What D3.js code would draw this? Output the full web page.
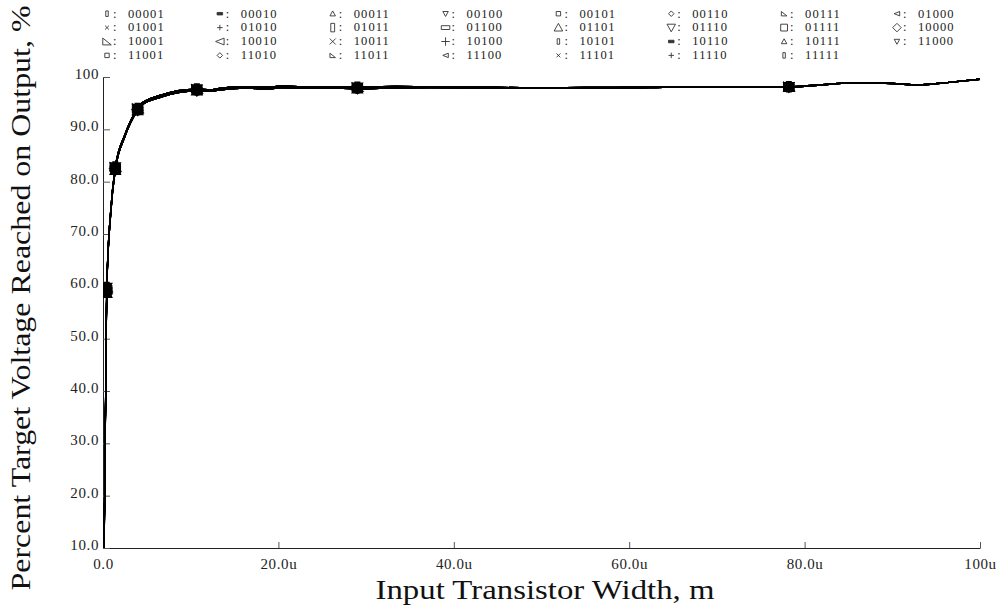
<!DOCTYPE html>
<html>
<head>
<meta charset="utf-8">
<script src="https://cdn.jsdelivr.net/npm/d3@7"></script>
<style>
  html, body { margin: 0; padding: 0; background: #fff; }
  svg { display: block; }
</style>
</head>
<body>
<svg id="chart" width="1001" height="606"></svg>
<script>
// Input transistor width sweep (in micrometres, labelled "u")
const widthSamples = [0.1, 0.42, 0.9, 1.4, 2.5, 3.95, 4.4, 6.7, 8.55, 10.7, 12.2, 13.5, 16.2, 18.8, 20.4, 22.7, 25.7, 29, 33.3, 37.3, 43, 48.7, 55, 62.4, 66.3, 72, 78.2, 82, 85.4, 89.2, 93, 96.5, 100];
// Widths at which the symbols are drawn
const markerWidths = [0.42, 1.4, 3.95, 10.7, 29, 78.2];

// Percent of target voltage reached, three closely overlapping response families
const responseHigh = [6, 59.8, 75.0, 82.8, 89.0, 94.0, 95.0, 96.6, 97.4, 97.7, 97.55, 97.9, 98.15, 98.05, 98.3, 98.15, 98.15, 98.05, 98.2, 98.15, 98.1, 97.95, 98.0, 98.05, 98.15, 98.15, 98.15, 98.55, 98.9, 98.85, 98.5, 99.0, 99.6];
const responseMid  = [5, 59.3, 74.6, 82.5, 88.8, 93.8, 94.8, 96.4, 97.2, 97.5, 97.4, 97.7, 98.0, 97.85, 98.15, 98.0, 98.0, 97.9, 98.05, 98.05, 98.0, 97.9, 97.95, 98.0, 98.1, 98.1, 98.1, 98.5, 98.9, 98.85, 98.5, 99.0, 99.6];
const responseLow  = [4, 58.7, 74.2, 82.2, 88.6, 93.6, 94.6, 96.2, 97.0, 97.35, 97.25, 97.55, 97.85, 97.7, 97.95, 97.85, 97.85, 97.75, 97.9, 97.95, 97.9, 97.8, 97.85, 97.95, 98.05, 98.05, 98.05, 98.45, 98.85, 98.8, 98.45, 98.95, 99.55];

// Configuration codes, one curve each
const codes = ["00001","00010","00011","00100","00101","00110","00111","01000",
               "01001","01010","01011","01100","01101","01110","01111","10000",
               "10001","10010","10011","10100","10101","10110","10111","11000",
               "11001","11010","11011","11100","11101","11110","11111"];
// Which response family each code follows
const codeFamily = [0,1,2,1,0,2,1,0, 2,1,0,1,2,0,1,2, 0,1,2,0,1,2,0,1, 2,0,1,2,0,1,2];
const families = [responseHigh, responseMid, responseLow];

// Axis ticks
const xMajorTicks = [0, 20, 40, 60, 80, 100];
const xTickLabels = ["0.0", "20.0u", "40.0u", "60.0u", "80.0u", "100u"];
const yMajorTicks = [100, 90, 80, 70, 60, 50, 40, 30, 20, 10];
const yTickLabels = ["100", "90.0", "80.0", "70.0", "60.0", "50.0", "40.0", "30.0", "20.0", "10.0"];

const SERIF = '"Liberation Serif", "Times New Roman", serif';
const svg = d3.select("#chart");
const x = d3.scaleLinear().domain([0, 100]).range([103, 980]);
const y = d3.scaleLinear().domain([10, 100]).range([548, 77]);

// ---- symbol shapes: cycles of ten, small / large ----
function symbolPath(kind, s) {
  const h = s / 2;
  switch (kind) {
    case 0: return `M${-h*0.45},${-h}H${h*0.45}V${h}H${-h*0.45}Z`;           // tall bar
    case 1: return `M${-h},${-h*0.45}H${h}V${h*0.45}H${-h}Z`;                // wide bar
    case 2: return `M0,${-h}L${h},${h*0.8}L${-h},${h*0.8}Z`;                 // up triangle
    case 3: return `M0,${h}L${h},${-h*0.8}L${-h},${-h*0.8}Z`;                // down triangle
    case 4: return `M${-h*0.8},${-h*0.8}H${h*0.8}V${h*0.8}H${-h*0.8}Z`;      // square
    case 5: return `M0,${-h}L${h},0L0,${h}L${-h},0Z`;                        // diamond
    case 6: return `M${-h},${-h*0.8}L${h},${h*0.8}H${-h}Z`;                  // right triangle
    case 7: return `M${h},${-h*0.8}V${h*0.8}L${-h},0Z`;                      // left triangle
    case 8: return `M${-h*0.7},${-h*0.7}L${h*0.7},${h*0.7}M${h*0.7},${-h*0.7}L${-h*0.7},${h*0.7}`; // cross
    default: return `M${-h},0H${h}M0,${-h}V${h}`;                            // plus
  }
}
const isLarge = i => i >= 10 && i < 20;
const isFilled = i => (i % 10) === 1 && !isLarge(i);

// ---- axes ----
const gx = svg.append("g").attr("transform", "translate(0,548)");
gx.call(d3.axisBottom(x).tickValues(d3.range(0, 101, 2).filter(v => v % 20 !== 0))
  .tickSize(-3).tickSizeOuter(0).tickFormat(""));
gx.call(d3.axisBottom(x).tickValues(xMajorTicks).tickSize(-6).tickSizeOuter(0)
  .tickPadding(10).tickFormat((d, i) => xTickLabels[i]));
gx.selectAll(".tick line").attr("stroke", "#555");
gx.select(".domain").attr("stroke", "#222");
gx.selectAll("text").attr("font-family", null).style("font-family", SERIF)
  .style("font-size", "15px").style("letter-spacing", "0.6px").attr("fill", "#222");

const gy = svg.append("g").attr("transform", "translate(103,0)");
gy.call(d3.axisLeft(y).tickValues(d3.range(10, 101, 2).filter(v => v % 10 !== 0))
  .tickSize(-4).tickSizeOuter(0).tickFormat(""));
gy.call(d3.axisLeft(y).tickValues(yMajorTicks).tickSize(-7).tickSizeOuter(0)
  .tickPadding(4).tickFormat((d, i) => yTickLabels[i]));
gy.selectAll(".tick line").attr("stroke", "#555");
gy.select(".domain").attr("stroke", "#222");
gy.selectAll("text").style("font-family", SERIF).style("font-size", "15px")
  .style("letter-spacing", "0.6px").attr("fill", "#222").attr("dy", "0.1em");
gx.attr("font-family", null); gy.attr("font-family", null);

// ---- curves ----
svg.append("clipPath").attr("id", "plotClip")
  .append("rect").attr("x", 103).attr("y", 60).attr("width", 890).attr("height", 488);

const line = d3.line().x(d => x(d[0])).y(d => y(d[1])).curve(d3.curveMonotoneX);
const plot = svg.append("g").attr("clip-path", "url(#plotClip)");

codes.forEach((code, i) => {
  const vals = families[codeFamily[i]];
  const pts = widthSamples.map((w, k) => [w, vals[k]]);
  plot.append("path").datum(pts).attr("d", line)
    .attr("fill", "none").attr("stroke", "#000").attr("stroke-width", 1.2);
});

codes.forEach((code, i) => {
  const vals = families[codeFamily[i]];
  const pts = widthSamples.map((w, k) => [w, vals[k]]).filter(p => markerWidths.includes(p[0]));
  const size = isLarge(i) ? 10 : 8;
  plot.selectAll(null).data(pts).join("path")
    .attr("transform", d => `translate(${x(d[0])},${y(d[1])})`)
    .attr("d", symbolPath(i % 10, size))
    .attr("fill", (i % 10) < 8 ? "#000" : "none")
    .attr("stroke", "#000").attr("stroke-width", 1.5);
});

// ---- legend ----
const legend = svg.append("g");
codes.forEach((code, i) => {
  const col = i % 8, row = Math.floor(i / 8);
  const cx = 107 + col * 112.85, base = 17.5 + row * 13.9;
  legend.append("path")
    .attr("transform", `translate(${cx},${base - 3.8})`)
    .attr("d", symbolPath(i % 10, isLarge(i) ? 8.5 : 5.5))
    .attr("fill", isFilled(i) ? "#333" : "none")
    .attr("stroke", "#333").attr("stroke-width", 0.9);
  const t = legend.append("text").attr("x", cx + 6).attr("y", base)
    .style("font-family", SERIF).style("font-size", "12.5px").attr("fill", "#222");
  t.append("tspan").text(":");
  t.append("tspan").attr("x", cx + 21).style("letter-spacing", "1.1px").text(code);
});

// ---- axis titles ----
svg.append("text").attr("x", 545).attr("y", 599).attr("text-anchor", "middle")
  .style("font-family", SERIF).style("font-size", "27px").attr("fill", "#111")
  .attr("textLength", 339).attr("lengthAdjust", "spacingAndGlyphs")
  .text("Input Transistor Width, m");
svg.append("text").attr("transform", "translate(30,298) rotate(-90)")
  .attr("text-anchor", "middle").attr("fill", "#111")
  .style("font-family", SERIF).style("font-size", "27px")
  .attr("textLength", 585).attr("lengthAdjust", "spacingAndGlyphs")
  .text("Percent Target Voltage Reached on Output, %");
</script>
</body>
</html>
